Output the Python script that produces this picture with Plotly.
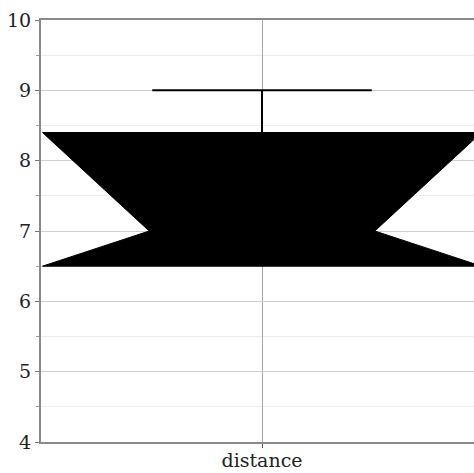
import plotly.graph_objects as go

# Summary statistics for the "distance" variable
category = ["distance"]
q1 = [6.5]
median = [7.0]
q3 = [8.4]
lower_fence = [6.5]
upper_fence = [9.0]

# Geometry of the notched box (in x-axis units, centred on 0)
half_width = 0.4966
notch_frac = 0.514      # apex position relative to the half width
cap_frac = 0.5          # whisker cap relative to the half width

fig = go.Figure()

for i, name in enumerate(category):
    cx = i
    w = half_width
    nw = half_width * notch_frac
    xs = [cx - w, cx + w, cx + nw, cx + w, cx - w, cx - nw, cx - w]
    ys = [q1[i], q1[i], median[i], q3[i], q3[i], median[i], q1[i]]
    # notched box body
    fig.add_trace(go.Scatter(
        x=xs, y=ys, mode="lines", fill="toself",
        fillcolor="black", line=dict(color="black", width=1),
        hoverinfo="skip", showlegend=False,
    ))
    # upper whisker
    fig.add_trace(go.Scatter(
        x=[cx, cx], y=[q3[i], upper_fence[i]], mode="lines",
        line=dict(color="black", width=2), showlegend=False,
    ))
    cw = half_width * cap_frac
    fig.add_trace(go.Scatter(
        x=[cx - cw, cx + cw], y=[upper_fence[i], upper_fence[i]], mode="lines",
        line=dict(color="black", width=2), showlegend=False,
    ))
    # lower whisker
    fig.add_trace(go.Scatter(
        x=[cx, cx], y=[lower_fence[i], q1[i]], mode="lines",
        line=dict(color="black", width=2), showlegend=False,
    ))

font_family = "DejaVu Serif"

fig.update_layout(
    width=474, height=473,
    margin=dict(l=41, r=0, t=20, b=31, autoexpand=False),
    paper_bgcolor="white", plot_bgcolor="white",
    font=dict(family=font_family, size=19, color="#222222"),
    showlegend=False,
    xaxis=dict(
        range=[-0.5, 0.4796],
        tickvals=list(range(len(category))), ticktext=category,
        showgrid=True, gridcolor="#a8a8a8", gridwidth=1,
        zeroline=False, automargin=False,
        showline=True, linecolor="#8a8a8a", linewidth=2, mirror=True,
        ticks="outside", ticklen=4, tickcolor="#555555",
        ticklabelstandoff=-4,
        tickfont=dict(family=font_family, size=19),
    ),
    yaxis=dict(
        range=[4, 10], dtick=1,
        showgrid=True, gridcolor="#cfcfcf", gridwidth=1,
        zeroline=False, automargin=False,
        showline=True, linecolor="#8a8a8a", linewidth=2,
        ticks="outside", ticklen=4, tickcolor="#777777",
        ticklabelstandoff=0,
        tickfont=dict(family=font_family, size=19),
        minor=dict(dtick=0.5, ticks="outside", ticklen=3, tickcolor="#999999",
                   showgrid=True, gridcolor="#ececec", gridwidth=1),
    ),
)

fig.write_html("out.html")
